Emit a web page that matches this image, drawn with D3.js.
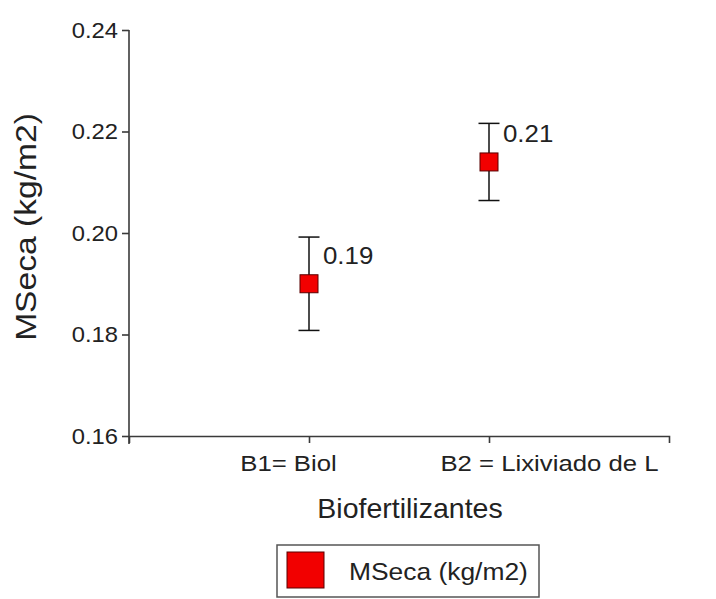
<!DOCTYPE html>
<html>
<head>
<meta charset="utf-8">
<script src="https://cdn.jsdelivr.net/npm/d3@7"></script>
<style>
  html, body { margin: 0; padding: 0; background: #fff; }
  svg { display: block; font-family: 'Liberation Sans', Arial, sans-serif; }
  .axis path, .axis line { stroke: #3a3a3a; stroke-width: 1.6; }
  .axis text { fill: #222; }
</style>
</head>
<body>
<svg id="chart" width="716" height="599"></svg>
<script>
// values
const categories = ['B1= Biol', 'B2 = Lixiviado de L'];
const means = [0.19, 0.214];
const errors = [0.0092, 0.0076];
const yTicks = [0.16, 0.18, 0.2, 0.22, 0.24];
const seriesName = 'MSeca (kg/m2)';
const xTitle = 'Biofertilizantes';
const yTitle = 'MSeca (kg/m2)';

const width = 716;
const height = 599;
const margin = { top: 30, right: 47, bottom: 163, left: 129 };
const red = '#f20000';

const data = categories.map((c, i) => ({ cat: c, mean: means[i], err: errors[i] }));

const chart = d3.select('#chart');

// the source image is a bit wider than tall, so text gets a small horizontal stretch
const stretch = (sel, sx) =>
  sel.each(function () {
    const t = d3.select(this);
    const x = +t.attr('x') || 0;
    const y = +t.attr('y') || 0;
    t.attr('transform', `translate(${x},${y}) scale(${sx},1) translate(${-x},${-y})`);
  });

const xScale = d3
  .scalePoint()
  .domain(categories)
  .range([margin.left, width - margin.right])
  .padding(1);

const yScale = d3
  .scaleLinear()
  .domain([yTicks[0], yTicks[yTicks.length - 1]])
  .range([height - margin.bottom, margin.top]);

// axes
const yAxisG = chart
  .append('g')
  .attr('class', 'y-axis axis')
  .attr('transform', `translate(${margin.left},0)`)
  .call(d3.axisLeft(yScale).tickValues(yTicks).tickFormat(d3.format('.2f')).tickSize(7).tickPadding(4));
yAxisG.selectAll('text').attr('font-size', 22);
stretch(yAxisG.selectAll('text'), 1.08);

const xAxisG = chart
  .append('g')
  .attr('class', 'x-axis axis')
  .attr('transform', `translate(0,${height - margin.bottom})`)
  .call(d3.axisBottom(xScale).tickSize(7).tickPadding(12));
yAxisG.select('.domain').remove();
chart
  .append('line')
  .attr('stroke', '#3a3a3a')
  .attr('stroke-width', 1.6)
  .attr('x1', margin.left)
  .attr('x2', margin.left)
  .attr('y1', yScale.range()[1])
  .attr('y2', yScale.range()[0] + 8);

// tick labels in the original sit off-centre from their ticks
const xLabelShift = [-21, 60];
xAxisG
  .selectAll('.tick text')
  .attr('font-size', 22)
  .attr('x', (d, i) => xLabelShift[i]);
stretch(xAxisG.selectAll('.tick text'), 1.17);

// titles
const yt = chart
  .append('g')
  .attr('transform', `translate(36,${(margin.top + height - margin.bottom) / 2 - 6}) rotate(-90)`)
  .append('text')
  .attr('text-anchor', 'middle')
  .attr('font-size', 30)
  .attr('fill', '#222')
  .text(yTitle);
stretch(yt, 1.12);

chart
  .append('text')
  .attr('x', 410)
  .attr('y', 518)
  .attr('text-anchor', 'middle')
  .attr('font-size', 28.5)
  .attr('fill', '#222')
  .text(xTitle);

// error bars
const bars = chart.append('g').attr('class', 'errbars').selectAll('g').data(data).join('g');
bars
  .append('line')
  .attr('stroke', '#111')
  .attr('stroke-width', 1.5)
  .attr('x1', (d) => xScale(d.cat))
  .attr('x2', (d) => xScale(d.cat))
  .attr('y1', (d) => yScale(d.mean + d.err))
  .attr('y2', (d) => yScale(d.mean - d.err));
[1, -1].forEach((s) => {
  bars
    .append('line')
    .attr('stroke', '#111')
    .attr('stroke-width', 1.5)
    .attr('x1', (d) => xScale(d.cat) - 10.5)
    .attr('x2', (d) => xScale(d.cat) + 10.5)
    .attr('y1', (d) => yScale(d.mean + s * d.err))
    .attr('y2', (d) => yScale(d.mean + s * d.err));
});

// markers
const size = 18;
bars
  .append('rect')
  .attr('x', (d) => xScale(d.cat) - size / 2)
  .attr('y', (d) => yScale(d.mean) - size / 2)
  .attr('width', size)
  .attr('height', size)
  .attr('fill', red)
  .attr('stroke', '#5a0000')
  .attr('stroke-width', 1);

// value labels
const vals = bars
  .append('text')
  .attr('x', (d) => xScale(d.cat) + 14)
  .attr('y', (d) => yScale(d.mean) - 20)
  .attr('font-size', 23.5)
  .attr('fill', '#222')
  .text((d) => d3.format('.2f')(d.mean));
stretch(vals, 1.1);

// legend
const legend = chart.append('g').attr('class', 'legend').attr('transform', 'translate(277,545)');
legend
  .append('rect')
  .attr('width', 262)
  .attr('height', 52)
  .attr('fill', '#fff')
  .attr('stroke', '#555')
  .attr('stroke-width', 1.5);
legend
  .append('rect')
  .attr('x', 10)
  .attr('y', 7)
  .attr('width', 37)
  .attr('height', 36)
  .attr('fill', red)
  .attr('stroke', '#5a0000')
  .attr('stroke-width', 1);
const lt = legend
  .append('text')
  .attr('x', 72)
  .attr('y', 35)
  .attr('font-size', 24)
  .attr('fill', '#222')
  .text(seriesName);
stretch(lt, 1.1);
</script>
</body>
</html>
